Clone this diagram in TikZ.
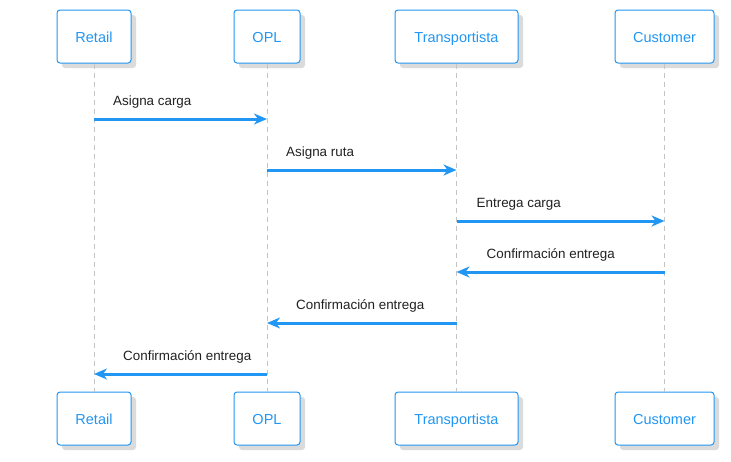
\documentclass[tikz,border=0pt]{standalone}
\usepackage{fontspec}
\setmainfont{Liberation Sans}
\usetikzlibrary{arrows.meta,shadows}
\definecolor{sblue}{HTML}{2196F3}
\definecolor{lgray}{HTML}{C4C4C4}
\definecolor{tgray}{HTML}{212121}
\begin{document}
\begin{tikzpicture}[x=1pt,y=-1pt,
  actor/.style={draw=sblue, line width=1pt, rounded corners=3pt, fill=white,
    minimum height=53pt, inner sep=0pt, text=sblue, font=\fontsize{14.5}{16}\selectfont,
    text height=12.5pt, text depth=1pt,
    drop shadow={shadow xshift=5pt, shadow yshift=-5pt, fill=black!14, opacity=1}},
  life/.style={draw=lgray, line width=0.8pt, dash pattern=on 5pt off 4pt},
  msg/.style={draw=sblue, line width=3pt, -{Stealth[length=13pt,width=11pt,inset=4pt]}},
  lbl/.style={text=tgray, font=\fontsize{13.4}{16}\selectfont, anchor=base west, inner sep=0pt}
]
\useasboundingbox (0,0) rectangle (731,461);
% top actors
\node[actor, minimum width=74pt] (rt) at (94,36.5) {Retail};
\node[actor, minimum width=66pt] (ot) at (267,36.5) {OPL};
\node[actor, minimum width=123pt] (tt) at (456.5,36.5) {Transportista};
\node[actor, minimum width=99pt] (ct) at (664.5,36.5) {Customer};
% bottom actors
\node[actor, minimum width=74pt] (rb) at (94,418.5) {Retail};
\node[actor, minimum width=66pt] (ob) at (267,418.5) {OPL};
\node[actor, minimum width=123pt] (tb) at (456.5,418.5) {Transportista};
\node[actor, minimum width=99pt] (cb) at (664.5,418.5) {Customer};
% lifelines
\draw[life] (rt.south) -- (rb.north);
\draw[life] (ot.south) -- (ob.north);
\draw[life] (tt.south) -- (tb.north);
\draw[life] (ct.south) -- (cb.north);
% message rows
\coordinate (m1) at (0,119);
\coordinate (m2) at (0,170);
\coordinate (m3) at (0,221);
\coordinate (m4) at (0,272);
\coordinate (m5) at (0,323);
\coordinate (m6) at (0,374);
\draw[msg] (rt |- m1) -- (ot |- m1);
\node[lbl] (l1) at ([xshift=19pt,yshift=14pt]rt |- m1) {Asigna carga};
\draw[msg] (ot |- m2) -- (tt |- m2);
\node[lbl] (l2) at ([xshift=19pt,yshift=14pt]ot |- m2) {Asigna ruta};
\draw[msg] (tt |- m3) -- (ct |- m3);
\node[lbl] (l3) at ([xshift=20pt,yshift=14pt]tt |- m3) {Entrega carga};
\draw[msg] (ct |- m4) -- (tt |- m4);
\node[lbl] (l4) at ([xshift=30pt,yshift=14pt]tt |- m4) {Confirmación entrega};
\draw[msg] (tt |- m5) -- (ot |- m5);
\node[lbl] (l5) at ([xshift=29pt,yshift=14pt]ot |- m5) {Confirmación entrega};
\draw[msg] (ot |- m6) -- (rt |- m6);
\node[lbl] (l6) at ([xshift=29pt,yshift=14pt]rt |- m6) {Confirmación entrega};
\end{tikzpicture}
\end{document}
